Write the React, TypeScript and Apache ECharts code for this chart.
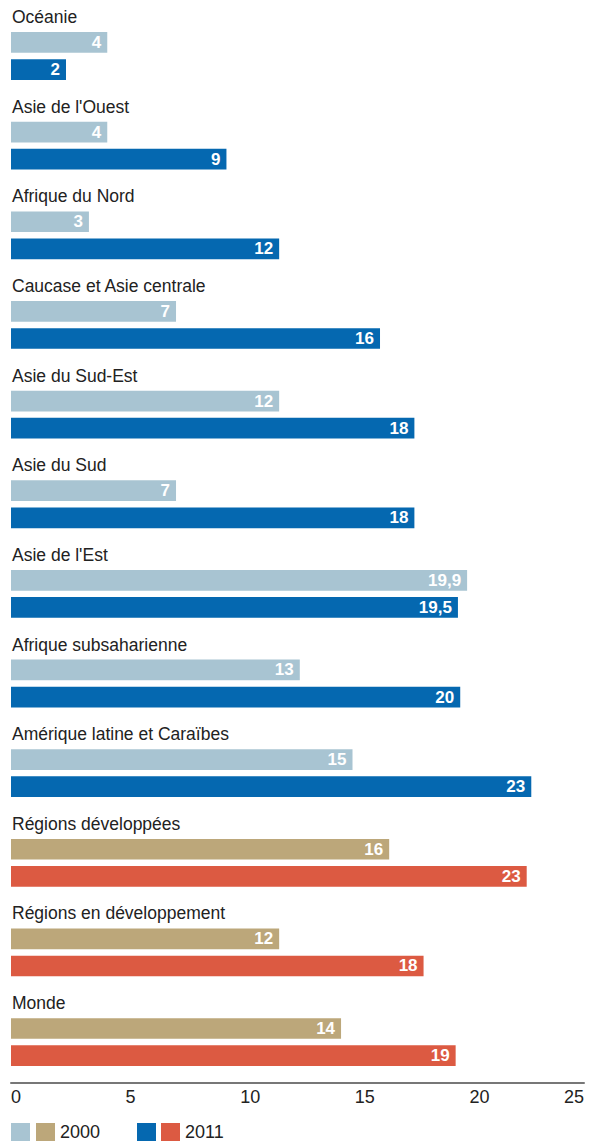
import React, { useEffect, useRef } from "react";
import * as echarts from "echarts";

const categories = [
  "Océanie",
  "Asie de l'Ouest",
  "Afrique du Nord",
  "Caucase et Asie centrale",
  "Asie du Sud-Est",
  "Asie du Sud",
  "Asie de l'Est",
  "Afrique subsaharienne",
  "Amérique latine et Caraïbes",
  "Régions développées",
  "Régions en développement",
  "Monde",
];

// true = aggregate group (tan / red colours)
const isAggregate = [false, false, false, false, false, false, false, false, false, true, true, true];

const values2000 = [4.2, 4.2, 3.4, 7.2, 11.7, 7.2, 19.9, 12.6, 14.9, 16.5, 11.7, 14.4];
const values2011 = [2.4, 9.4, 11.7, 16.1, 17.6, 17.6, 19.5, 19.6, 22.7, 22.5, 18.0, 19.4];

const labels2000 = ["4", "4", "3", "7", "12", "7", "19,9", "13", "15", "16", "12", "14"];
const labels2011 = ["2", "9", "12", "16", "18", "18", "19,5", "20", "23", "23", "18", "19"];

const xTicks = [0, 5, 10, 15, 20, 25];

const FONT = "'Liberation Sans', Arial, Helvetica, sans-serif";
const C_LIGHT = "#a8c4d2";
const C_TAN = "#bca77a";
const C_BLUE = "#0568b0";
const C_RED = "#dc5a42";

export default function App() {
  const ref = useRef<HTMLDivElement>(null);

  useEffect(() => {
    if (!ref.current) return;
    const chart = echarts.init(ref.current, null, { renderer: "svg" });

    const pick = (vals: number[], agg: boolean) =>
      vals.map((v, i) => (isAggregate[i] === agg ? v : "-"));

    const mkLabel = (labels: string[]) => ({
      show: true,
      position: "insideRight",
      distance: 6,
      color: "#ffffff",
      fontFamily: FONT,
      fontWeight: "bold",
      fontSize: 17,
      formatter: (p: any) => labels[p.dataIndex],
    });

    const barCommon = {
      type: "bar",
      barWidth: 20.7,
      barGap: "31%",
    };

    const legendBase = {
      top: 1123,
      padding: 0,
      itemWidth: 19,
      itemHeight: 18,
      icon: "rect",
      selectedMode: false,
      textStyle: { fontFamily: FONT, fontSize: 18, color: "#222", lineHeight: 18 },
    };

    chart.setOption({
      animation: false,
      backgroundColor: "#ffffff",
      grid: {
        left: 11,
        right: 10,
        top: 11.2,
        height: 1075.7,
        containLabel: false,
        outerBoundsMode: "none",
      },
      xAxis: {
        type: "value",
        min: 0,
        max: 25,
        interval: 5,
        offset: -4,
        splitLine: { show: false },
        axisTick: { show: false },
        axisLine: { show: true, lineStyle: { color: "#777", width: 2 } },
        axisLabel: {
          color: "#222",
          fontFamily: FONT,
          fontSize: 18,
          margin: 5,
          align: "left",
          alignMaxLabel: "right",
          formatter: (v: number) => (xTicks.includes(v) ? String(v) : ""),
        },
      },
      yAxis: {
        type: "category",
        inverse: true,
        data: categories,
        axisLine: { show: false },
        axisTick: { show: false },
        splitLine: { show: false },
        axisLabel: {
          inside: true,
          interval: 0,
          margin: 1,
          color: "#222",
          fontFamily: FONT,
          fontSize: 17.5,
          verticalAlign: "bottom",
          lineHeight: 78,
        },
      },
      legend: [
        { ...legendBase, left: 11, data: ["r2000"], formatter: () => "" },
        { ...legendBase, left: 36, data: ["a2000"], formatter: () => "2000" },
        { ...legendBase, left: 137, data: ["r2011"], formatter: () => "" },
        { ...legendBase, left: 161, data: ["a2011"], formatter: () => "2011" },
      ],
      series: [
        {
          ...barCommon,
          name: "r2000",
          stack: "y2000",
          itemStyle: { color: C_LIGHT },
          label: mkLabel(labels2000),
          data: pick(values2000, false),
        },
        {
          ...barCommon,
          name: "a2000",
          stack: "y2000",
          itemStyle: { color: C_TAN },
          label: mkLabel(labels2000),
          data: pick(values2000, true),
        },
        {
          ...barCommon,
          name: "r2011",
          stack: "y2011",
          itemStyle: { color: C_BLUE },
          label: mkLabel(labels2011),
          data: pick(values2011, false),
        },
        {
          ...barCommon,
          name: "a2011",
          stack: "y2011",
          itemStyle: { color: C_RED },
          label: mkLabel(labels2011),
          data: pick(values2011, true),
        },
      ],
    });

    return () => chart.dispose();
  }, []);

  return (
    <div
      ref={ref}
      style={{ position: "fixed", left: 0, top: 0, width: 594, height: 1141, background: "#fff" }}
    />
  );
}
